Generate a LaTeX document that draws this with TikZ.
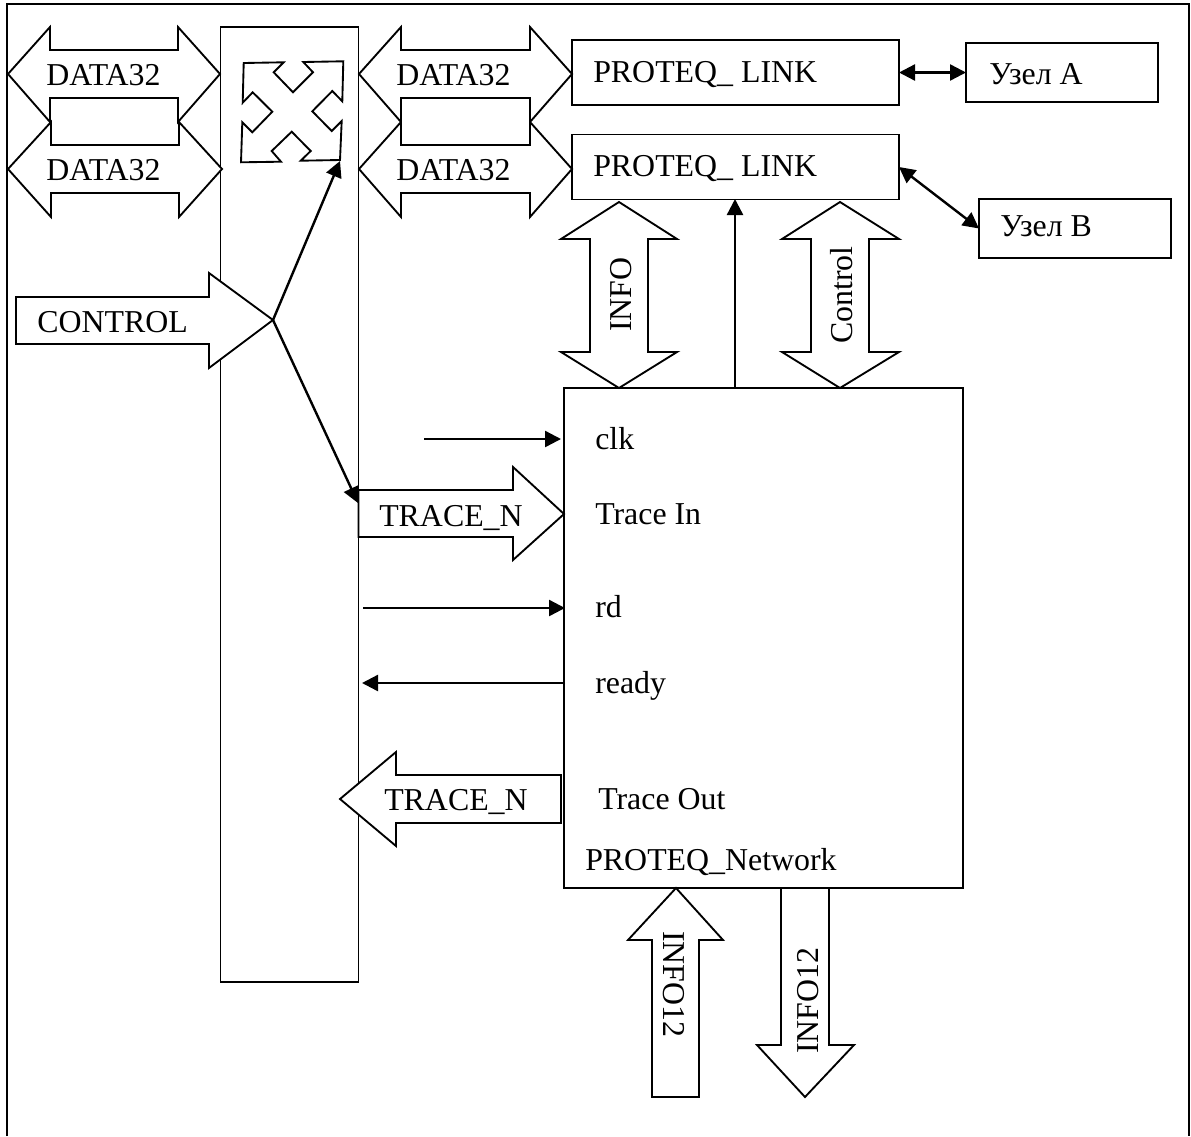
\documentclass[tikz,border=0pt]{standalone}
\usepackage{fontspec}
\setmainfont{Liberation Serif}
\usetikzlibrary{arrows.meta}
\tikzset{
  line/.style={line width=1.4pt, line join=miter},
  block/.style={line, draw, fill=white},
  boxsize/.style 2 args={minimum width=#1*0.75pt, minimum height=#2*0.75pt},
  box/.style={line, draw, fill=white, inner sep=0pt, outer sep=0pt},
  lbl/.style={inner sep=0pt, anchor=base west, font=\fontsize{23.9}{28}\selectfont},
  wire/.style={line width=1.8pt, -{Triangle[length=12pt,width=12pt]}},
  wires/.style={line width=1.8pt, {Triangle[length=12pt,width=12pt]}-{Triangle[length=12pt,width=12pt]}}}

\begin{document}
\begin{tikzpicture}[x=0.75pt,y=-0.75pt]
\useasboundingbox (0,0) rectangle (1191,1136);
\draw [line] (7,1136) -- (7,4) -- (1189,4) -- (1189,1136);

\node [box, boxsize={138}{955}] (bar) at (289.5,504.5) {};
\node [box, boxsize={327}{65}] (linka) at (735.5,72.5) {};
\node [box, boxsize={327}{65}] (linkb) at (735.5,167) {};
\node [box, boxsize={192}{59}] (nodea) at (1062,72.5) {};
\node [box, boxsize={192}{59}] (nodeb) at (1075,228.5) {};
\node [box, boxsize={399}{500}] (net) at (763.5,638) {};

% switch
\draw [block] (243.7,63) -- (283.7,62.3) -- (273.7,72.3) -- (293,92.3) -- (313,72.3) -- (303.3,62)
  -- (343.3,61.3) -- (342.3,101.3) -- (332.3,91) -- (312.3,111.3) -- (331.7,131) -- (341.7,121)
  -- (340,160) -- (300.7,160.7) -- (310.7,151) -- (291.7,131.7) -- (271.7,151) -- (281,161.7)
  -- (241,162.3) -- (242.3,122.3) -- (252.3,132.3) -- (272.3,111.7) -- (252.7,92.3) -- (242.7,102.7) -- cycle;

% wide arrows
\draw [block] (8,74) -- (50,27) -- (50,50) -- (178,50) -- (178,27) -- (220,74) -- (178,122) -- (178,98) -- (50,98) -- (50,122) -- cycle;
\draw [block] (8,169) -- (51,122) -- (51,145) -- (179,145) -- (179,122) -- (222,169) -- (179,217) -- (179,193) -- (51,193) -- (51,217) -- cycle;
\draw [block] (359,74) -- (401,27) -- (401,50) -- (530,50) -- (530,27) -- (572,74) -- (530,122) -- (530,98) -- (401,98) -- (401,122) -- cycle;
\draw [block] (359,169) -- (401,122) -- (401,145) -- (530,145) -- (530,122) -- (572,169) -- (530,217) -- (530,193) -- (401,193) -- (401,217) -- cycle;
\draw [block] (619,202) -- (677,239) -- (648,239) -- (648,352) -- (677,352) -- (619,388) -- (561,352) -- (590,352) -- (590,239) -- (561,239) -- cycle;
\draw [block] (840,202) -- (899,239) -- (869,239) -- (869,352) -- (899,352) -- (840,388) -- (782,352) -- (811,352) -- (811,239) -- (782,239) -- cycle;
\draw [block] (16,297) -- (209,297) -- (209,273) -- (273,320) -- (209,368) -- (209,344) -- (16,344) -- cycle;
\draw [block] (358.5,490) -- (513,490) -- (513,467) -- (564,514) -- (513,560) -- (513,537) -- (358.5,537) -- cycle;
\draw [block] (561,775) -- (396,775) -- (396,752) -- (340,799) -- (396,846) -- (396,823) -- (561,823) -- cycle;
\draw [block] (676,888) -- (723,940) -- (699,940) -- (699,1097) -- (652,1097) -- (652,940) -- (628,940) -- cycle;
\draw [block] (781,888) -- (829,888) -- (829,1045) -- (854,1045) -- (805,1097) -- (757,1045) -- (781,1045) -- cycle;

\coordinate (ctl) at (273,320);
\coordinate (swin) at (340,161);
\coordinate (trin) at (358,503);
\coordinate (netup) at (735,388);
\coordinate (linkin) at (735,199);
\coordinate (clka) at (424,439);
\coordinate (clkb) at (561,439);
\coordinate (rda) at (363,608);
\coordinate (rdb) at (565,608);
\coordinate (rea) at (565,683);
\coordinate (reb) at (362,683);

\draw [wires] (linka.east) -- (nodea.west);
\draw [wires] (linkb.east) -- (nodeb.west);
\draw [wire] (netup) -- (linkin);
\draw [wire] (ctl) -- (swin);
\draw [wire] (ctl) -- (trin);
\draw [wire] (clka) -- (clkb);
\draw [wire] (rda) -- (rdb);
\draw [wire] (rea) -- (reb);

\node [lbl] (d1) at (46,85) {DATA32};
\node [lbl] (d2) at (46,180) {DATA32};
\node [lbl] (d3) at (396,85) {DATA32};
\node [lbl] (d4) at (396,180) {DATA32};
\node [lbl] (la) at (593,82) {PROTEQ\_ LINK};
\node [lbl] (lb) at (593,176) {PROTEQ\_ LINK};
\node [lbl] (ua) at (989,84) {Узел А};
\node [lbl] (ub) at (1000,236) {Узел В};
\node [lbl] (ctltxt) at (37,332) {CONTROL};
\node [lbl] (tr1) at (379,526) {TRACE\_N};
\node [lbl] (tr2) at (384,810) {TRACE\_N};
\node [lbl] (clk) at (595,449) {clk};
\node [lbl] (tin) at (595,524) {Trace In};
\node [lbl] (rd) at (595,617) {rd};
\node [lbl] (ready) at (595,693) {ready};
\node [lbl] (tout) at (598,809) {Trace Out};
\node [lbl] (pnet) at (585,870) {PROTEQ\_Network};
\node [lbl, rotate=90] (info) at (631,332) {INFO};
\node [lbl, rotate=90] (cont) at (852,344) {Control};
\node [lbl, rotate=-90] (i12a) at (663,931) {INFO12};
\node [lbl, rotate=90] (i12b) at (818,1054) {INFO12};
\end{tikzpicture}
\end{document}
